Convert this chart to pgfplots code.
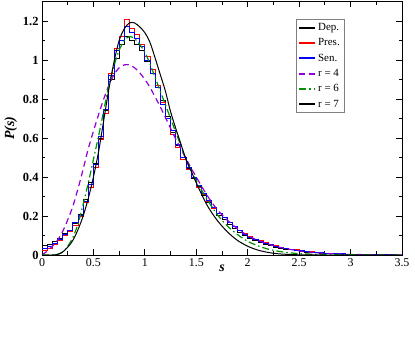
\documentclass[border=0pt]{standalone}
\usepackage{fontspec}
\setmainfont{Liberation Serif}
\usepackage{pgfplots}
\usepackage{pgfplotstable}
\pgfplotsset{compat=1.18}

\definecolor{gviolet}{RGB}{148,0,211}
\definecolor{ggreen}{RGB}{0,145,0}

% histograms: left bin edge, Dep., Pres., Sen.
\pgfplotstableread{
s     dep    pres   sen
0.00  0.050  0.025  0.035
0.05  0.055  0.035  0.045
0.10  0.070  0.055  0.060
0.15  0.085  0.075  0.080
0.20  0.110  0.100  0.105
0.25  0.125  0.120  0.125
0.30  0.160  0.150  0.165
0.35  0.210  0.195  0.205
0.40  0.285  0.270  0.275
0.45  0.370  0.345  0.360
0.50  0.470  0.450  0.465
0.55  0.600  0.590  0.610
0.60  0.740  0.725  0.745
0.65  0.900  0.930  0.920
0.70  1.010  1.060  1.050
0.75  1.080  1.120  1.100
0.80  1.120  1.210  1.170
0.85  1.100  1.160  1.140
0.90  1.080  1.130  1.110
0.95  1.050  1.080  1.070
1.00  0.990  1.020  1.000
1.05  0.930  0.950  0.930
1.10  0.860  0.870  0.860
1.15  0.790  0.780  0.770
1.20  0.710  0.700  0.700
1.25  0.630  0.620  0.640
1.30  0.560  0.550  0.565
1.35  0.500  0.490  0.500
1.40  0.445  0.440  0.450
1.45  0.390  0.395  0.400
1.50  0.350  0.345  0.355
1.55  0.305  0.310  0.315
1.60  0.270  0.275  0.280
1.65  0.245  0.240  0.245
1.70  0.205  0.215  0.215
1.75  0.180  0.190  0.190
1.80  0.155  0.165  0.165
1.85  0.135  0.145  0.145
1.90  0.115  0.125  0.125
1.95  0.100  0.110  0.105
2.00  0.085  0.095  0.092
2.05  0.075  0.082  0.080
2.10  0.065  0.072  0.070
2.15  0.055  0.062  0.060
2.20  0.048  0.054  0.052
2.25  0.041  0.047  0.045
2.30  0.035  0.040  0.039
2.35  0.030  0.035  0.034
2.40  0.026  0.030  0.029
2.45  0.022  0.026  0.025
2.50  0.018  0.022  0.021
2.55  0.015  0.019  0.018
2.60  0.013  0.016  0.015
2.65  0.011  0.013  0.013
2.70  0.009  0.011  0.011
2.75  0.008  0.009  0.009
2.80  0.007  0.008  0.008
2.85  0.006  0.007  0.007
2.90  0.005  0.006  0.006
2.95  0.004  0.005  0.005
3.00  0.003  0.004  0.004
3.05  0.003  0.003  0.003
3.10  0.002  0.003  0.003
3.15  0.002  0.002  0.002
3.20  0.002  0.002  0.002
3.25  0.001  0.002  0.001
3.30  0.001  0.001  0.001
3.35  0.001  0.001  0.001
3.40  0.000  0.001  0.001
3.45  0.000  0.000  0.000
3.50  0.000  0.000  0.000
}\hist

% smooth curves r = 4, 6, 7
\pgfplotstableread{
s     r4     r6     r7
0.00  0.000  0.000  0.000
0.05  0.020  0.000  0.000
0.10  0.045  0.000  0.000
0.15  0.075  0.003  0.003
0.20  0.120  0.015  0.015
0.25  0.180  0.045  0.040
0.30  0.250  0.090  0.075
0.35  0.340  0.160  0.130
0.40  0.440  0.260  0.200
0.45  0.545  0.370  0.290
0.50  0.635  0.490  0.400
0.55  0.720  0.610  0.530
0.60  0.800  0.740  0.690
0.65  0.870  0.870  0.850
0.70  0.925  0.970  0.990
0.75  0.960  1.050  1.100
0.80  0.975  1.100  1.160
0.85  0.975  1.120  1.190
0.90  0.960  1.110  1.190
0.95  0.935  1.080  1.170
1.00  0.900  1.040  1.140
1.05  0.860  0.980  1.090
1.10  0.810  0.910  1.010
1.15  0.760  0.840  0.925
1.20  0.705  0.770  0.840
1.25  0.650  0.700  0.735
1.30  0.595  0.630  0.650
1.35  0.545  0.560  0.570
1.40  0.495  0.490  0.490
1.45  0.445  0.430  0.430
1.50  0.400  0.380  0.370
1.60  0.310  0.290  0.260
1.70  0.235  0.210  0.180
1.80  0.180  0.150  0.120
1.90  0.135  0.105  0.075
2.00  0.100  0.070  0.045
2.10  0.075  0.047  0.025
2.20  0.056  0.030  0.013
2.30  0.041  0.019  0.006
2.40  0.030  0.012  0.003
2.50  0.021  0.007  0.001
2.70  0.010  0.003  0.000
3.00  0.003  0.001  0.000
3.50  0.000  0.000  0.000
}\curves

\begin{document}
\begin{tikzpicture}
\useasboundingbox (-42bp,-82bp) rectangle (373bp,255bp);
\begin{axis}[
  scale only axis,
  width=360bp, height=253.5bp,
  xmin=0, xmax=3.5, ymin=0, ymax=1.3,
  xtick={0,0.5,...,3.5},
  ytick={0,0.2,...,1.2},
  minor x tick num=1, minor y tick num=1,
  tick align=inside,
  major tick length=6bp, minor tick length=3.5bp,
  tick style={black, line width=0.8pt},
  axis line style={line width=0.9pt},
  /pgf/number format/assume math mode=true,
  xticklabel style={font=\fontsize{12}{14}\selectfont},
  yticklabel style={font=\fontsize{12.5}{14}\selectfont\bfseries},
  xlabel={\bfseries\itshape s},
  ylabel={\bfseries\itshape P(s)},
  label style={font=\fontsize{14}{16}\selectfont},
  xlabel style={yshift=9bp},
  ylabel style={yshift=-1bp},
  legend cell align=left,
  legend image code/.code={\draw[#1, line width=1.8pt] (0bp,0bp) -- (16bp,0bp);},
  legend style={at={(0.706,0.93)}, anchor=north west,
    draw=gray, font=\fontsize{11}{12}\selectfont,
    inner xsep=2pt, inner ysep=2pt, row sep=2.6bp},
]
\addplot[const plot mark left, black, line width=1pt] table[x=s, y=dep] {\hist};
\addlegendentry{Dep.}
\addplot[const plot mark left, red, line width=1pt] table[x=s, y=pres] {\hist};
\addlegendentry{Pres.}
\addplot[const plot mark left, blue, line width=1pt] table[x=s, y=sen] {\hist};
\addlegendentry{Sen.}
\addplot[smooth, gviolet, line width=1.2pt, dash pattern=on 6bp off 4bp] table[x=s, y=r4] {\curves};
\addlegendentry{r = 4}
\addplot[smooth, ggreen, line width=1.2pt, dash pattern=on 7bp off 3bp on 1.5bp off 3bp] table[x=s, y=r6] {\curves};
\addlegendentry{r = 6}
\addplot[smooth, black, line width=1pt] table[x=s, y=r7] {\curves};
\addlegendentry{r = 7}
\end{axis}
\end{tikzpicture}
\end{document}
